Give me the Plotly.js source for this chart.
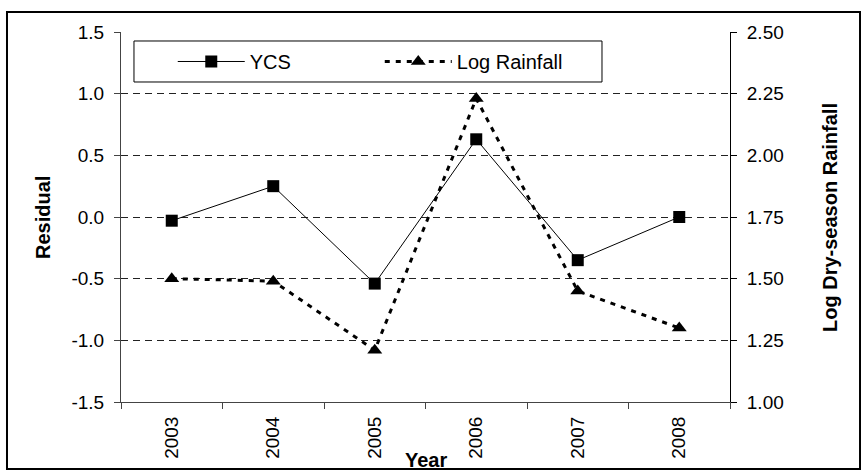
<!DOCTYPE html>
<html>
<head>
<meta charset="utf-8">
<script src="https://cdn.plot.ly/plotly-3.0.1.min.js"></script>
<style>
  html, body { margin: 0; padding: 0; background: #fff; }
  #chart { width: 861px; height: 470px; }
</style>
</head>
<body>
<div id="chart"></div>
<script>
// values
const years = ['2003', '2004', '2005', '2006', '2007', '2008']
const ycsResidual = [-0.03, 0.25, -0.54, 0.63, -0.35, 0.0]
const logRainfall = [1.50, 1.49, 1.21, 2.23, 1.45, 1.30]
const residualTicks = [-1.5, -1.0, -0.5, 0.0, 0.5, 1.0, 1.5]
const rainfallTicks = [1.0, 1.25, 1.5, 1.75, 2.0, 2.25, 2.5]

const font = 'Liberation Sans, Arial, sans-serif'

// plain hyphen for negatives, like the original
const residualLabels = residualTicks.map(v => v.toFixed(1))
const rainfallLabels = rainfallTicks.map(v => v.toFixed(2))

const traces = [
  {
    name: 'YCS',
    type: 'scatter',
    mode: 'lines+markers',
    x: years,
    y: ycsResidual,
    line: { color: '#000', width: 1 },
    marker: { symbol: 'square', size: 12, color: '#000' }
  },
  {
    name: 'Log Rainfall',
    type: 'scatter',
    mode: 'lines+markers',
    x: years,
    y: logRainfall,
    yaxis: 'y2',
    line: { color: '#000', width: 3, dash: '5px,6px' },
    marker: { symbol: 'triangle-up', size: 13, color: '#000' }
  }
]

const layout = {
  width: 861,
  height: 470,
  margin: { l: 121, r: 131, t: 32, b: 68 },
  paper_bgcolor: '#fff',
  plot_bgcolor: '#fff',
  font: { family: font, size: 19, color: '#000' },
  showlegend: true,
  legend: {
    orientation: 'h',
    x: 0.085,
    xanchor: 'left',
    y: 0.9203,
    yanchor: 'middle',
    bgcolor: 'rgba(0,0,0,0)',
    borderwidth: 0,
    itemwidth: 67,
    entrywidth: 125,
    font: { family: font, size: 20, color: '#000' }
  },
  xaxis: {
    type: 'category',
    range: [-0.5, 5.5],
    tickson: 'boundaries',
    ticks: 'outside',
    ticklen: 6,
    tickcolor: '#444',
    tickangle: -90,
    ticklabelstandoff: 6,
    showline: true,
    linecolor: '#444',
    linewidth: 1,
    showgrid: false,
    zeroline: false,
    fixedrange: true
  },
  yaxis: {
    range: [-1.5, 1.5],
    tickvals: residualTicks,
    ticktext: residualLabels,
    ticks: 'outside',
    ticklen: 6,
    tickcolor: '#444',
    ticklabelstandoff: 6,
    showline: true,
    linecolor: '#444',
    linewidth: 1,
    showgrid: true,
    gridcolor: '#222',
    gridwidth: 1,
    griddash: '7px,5px',
    zeroline: false,
    fixedrange: true
  },
  yaxis2: {
    overlaying: 'y',
    side: 'right',
    range: [1.0, 2.5],
    tickvals: rainfallTicks,
    ticktext: rainfallLabels,
    ticks: 'outside',
    ticklen: 6,
    tickcolor: '#000',
    ticklabelstandoff: 6,
    showline: true,
    linecolor: '#000',
    linewidth: 1,
    showgrid: false,
    zeroline: false,
    fixedrange: true
  },
  shapes: [
    // outer frame of the figure
    {
      type: 'rect', xref: 'paper', yref: 'paper', layer: 'above',
      x0: -0.1872, x1: 1.2135, y0: -0.1811, y1: 1.0541,
      line: { color: '#000', width: 2 }
    },
    // legend box
    {
      type: 'rect', xref: 'paper', yref: 'paper', layer: 'above',
      x0: 0.0213, x1: 0.7898, y0: 0.8649, y1: 0.9757,
      fillcolor: '#fff',
      line: { color: '#000', width: 1 }
    }
  ],
  annotations: [
    {
      text: '<b>Residual</b>', xref: 'paper', yref: 'paper',
      x: -0.1281, y: 0.5, xanchor: 'center', yanchor: 'middle',
      textangle: -90, showarrow: false,
      font: { family: font, size: 20, color: '#000' }
    },
    {
      text: '<b>Log Dry-season Rainfall</b>', xref: 'paper', yref: 'paper',
      x: 1.1642, y: 0.5, xanchor: 'center', yanchor: 'middle',
      textangle: -90, showarrow: false,
      font: { family: font, size: 20, color: '#000' }
    },
    {
      text: '<b>Year</b>', xref: 'paper', yref: 'paper',
      x: 0.5, y: -0.1568, xanchor: 'center', yanchor: 'middle',
      showarrow: false,
      font: { family: font, size: 20, color: '#000' }
    }
  ]
}

Plotly.newPlot('chart', traces, layout, { displayModeBar: false, staticPlot: true })
</script>
</body>
</html>
